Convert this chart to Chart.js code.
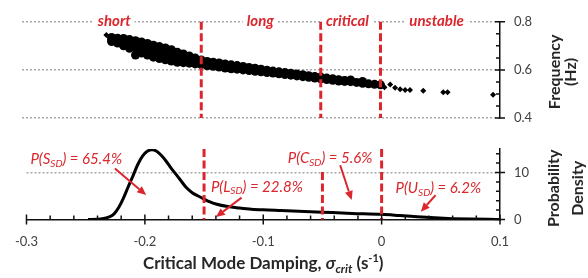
<!DOCTYPE html>
<html>
<head>
<meta charset="utf-8">
<script src="https://cdn.jsdelivr.net/npm/chart.js@4.4.1/dist/chart.umd.min.js"></script>
<style>
  html, body { margin: 0; padding: 0; background: #fff; }
  #wrap { position: relative; width: 588px; height: 278px; }
  #wrap canvas { position: absolute; left: 0; top: 0; }
</style>
</head>
<body>
<div id="wrap">
  <canvas id="pdfChart" width="588" height="278"></canvas>
  <canvas id="freqChart" width="588" height="278"></canvas>
</div>
<script>
// damping thresholds between the four regions and their probabilities
const regionEdges = [-0.15, -0.05, 0];
const regionNames = ['short', 'long', 'critical', 'unstable'];
const regionLetters = ['S', 'L', 'C', 'U'];
const regionProbs = [65.4, 22.8, 5.6, 6.2];

const dampBand = [-0.225, -0.220, -0.215, -0.210, -0.205, -0.200, -0.195, -0.190, -0.185, -0.180,
  -0.175, -0.170, -0.165, -0.160, -0.155, -0.150, -0.145, -0.140, -0.135, -0.130,
  -0.125, -0.120, -0.115, -0.110, -0.105, -0.100, -0.095, -0.090, -0.085, -0.080,
  -0.075, -0.070, -0.065, -0.060, -0.055, -0.050, -0.045, -0.040, -0.035, -0.030,
  -0.025, -0.020, -0.015, -0.010, -0.005, 0.000];
const freqUpper = [0.735, 0.732, 0.731, 0.726, 0.721, 0.716, 0.710, 0.703, 0.697, 0.691,
  0.684, 0.673, 0.666, 0.658, 0.649, 0.641, 0.635, 0.632, 0.629, 0.625,
  0.621, 0.618, 0.614, 0.610, 0.607, 0.603, 0.599, 0.595, 0.592, 0.589,
  0.586, 0.583, 0.580, 0.576, 0.573, 0.570, 0.566, 0.563, 0.559, 0.556,
  0.558, null, 0.552, null, null, null];
const freqMiddle = [0.725, 0.722, 0.716, 0.708, 0.695, 0.693, 0.687, 0.679, 0.672, 0.667,
  0.661, 0.653, 0.648, 0.643, 0.637, 0.632, 0.626, 0.623, 0.620, 0.617,
  0.614, 0.610, 0.607, 0.604, 0.600, 0.597, 0.594, 0.591, 0.588, 0.585,
  0.582, 0.579, 0.576, 0.573, 0.570, 0.566, 0.563, 0.560, 0.557, 0.554,
  0.551, 0.548, 0.544, 0.542, 0.540, 0.538];
const freqLower = [0.718, 0.712, 0.700, 0.690, 0.662, 0.670, 0.662, 0.653, 0.647, 0.642,
  0.637, 0.632, 0.630, 0.628, 0.625, 0.622, 0.617, 0.615, 0.612, 0.608,
  0.605, 0.603, 0.600, 0.597, 0.594, 0.592, 0.589, 0.587, 0.584, 0.581,
  0.578, 0.575, 0.572, 0.569, 0.566, 0.563, 0.560, 0.557, 0.554, 0.553,
  null, null, null, null, null, null];
// isolated points
const dampSparse = [-0.2294, 0.0033, 0.0081, 0.0122, 0.0164, 0.0206, 0.0247, 0.0358, 0.0525, 0.0561, 0.0942];
const freqSparse = [0.745, 0.528, 0.539, 0.526, 0.520, 0.516, 0.516, 0.513, 0.507, 0.507, 0.497];

// probability density of the critical mode damping
const dampCurve = [-0.248, -0.240, -0.235, -0.230, -0.226, -0.222, -0.218, -0.214, -0.210, -0.206,
  -0.202, -0.198, -0.194, -0.190, -0.186, -0.182, -0.178, -0.174, -0.170, -0.165,
  -0.160, -0.155, -0.150, -0.145, -0.140, -0.130, -0.120, -0.110, -0.100, -0.085,
  -0.070, -0.050, -0.025, 0.000, 0.015, 0.030, 0.045, 0.060, 0.075, 0.090, 0.100];
const densityCurve = [0, 0.05, 0.2, 0.55, 1.2, 2.6, 4.6, 7.0, 9.3, 11.7,
  13.5, 14.5, 14.85, 14.5, 13.6, 12.4, 11.0, 9.7, 8.4, 6.8,
  5.7, 5.0, 4.35, 3.75, 3.3, 2.75, 2.45, 2.2, 2.05, 1.9,
  1.75, 1.55, 1.3, 1.1, 0.85, 0.58, 0.35, 0.18, 0.08, 0.03, 0.02];

// labelled ticks
const dampTicks = [-0.3, -0.2, -0.1, 0, 0.1];
const freqTicks = [0.4, 0.6, 0.8];
const densityTicks = [0, 10];

// where the annotations sit (data units)
const topLabelX = [-0.2228, -0.1006, -0.0277, 0.0469];
const probLabelAt = [[-0.2967, 12.75], [-0.1442, 6.95], [-0.0792, 12.97], [0.0117, 6.6]];
const probArrows = [[-0.2253, 10.85, -0.1989, 5.19], [-0.1183, 4.66, -0.140, 0.53],
  [-0.035, 11.55, -0.0253, 4.13], [0.0456, 5.19, 0.0331, 1.65]];

const RED = '#da262c';
const FONT = 'Lato, "DejaVu Sans", sans-serif';
const TICK_COLOR = '#404040';

function isMajor(list, v) {
  return list.some(t => Math.abs(t - v) < 1e-6);
}

function onStep(v, step) {
  return Math.abs(v / step - Math.round(v / step)) < 1e-6;
}

function drawTickMarks(ctx, scale, majors, step) {
  ctx.save();
  ctx.strokeStyle = '#111';
  ctx.lineWidth = 1.5;
  ctx.beginPath();
  scale.ticks.forEach(t => {
    if (!onStep(t.value, step)) return;
    const p = scale.getPixelForValue(t.value);
    const major = isMajor(majors, t.value);
    if (scale.isHorizontal()) {
      const y = scale.top;
      ctx.moveTo(p, y - (major ? 5 : 4));
      ctx.lineTo(p, y + (major ? 5 : 0));
    } else {
      const x = scale.left;
      ctx.moveTo(x - (major ? 5 : 4), p);
      ctx.lineTo(x + (major ? 5 : 0), p);
    }
  });
  ctx.stroke();
  ctx.restore();
}

function drawRegionLines(chart) {
  const {ctx, chartArea, scales: {x}} = chart;
  ctx.save();
  ctx.strokeStyle = RED;
  ctx.lineWidth = 3;
  ctx.setLineDash([8, 3.5]);
  regionEdges.forEach(e => {
    const px = x.getPixelForValue(e);
    ctx.beginPath();
    ctx.moveTo(px, chartArea.top);
    ctx.lineTo(px, chartArea.bottom);
    ctx.stroke();
  });
  ctx.restore();
}

function measureRich(ctx, parts) {
  let w = 0;
  parts.forEach(p => { ctx.font = p[1]; w += ctx.measureText(p[0]).width; });
  return w;
}

// parts: [text, font, dy]
function drawRich(ctx, x, y, parts, align) {
  const w = measureRich(ctx, parts);
  let cx = align === 'center' ? x - w / 2 : x;
  ctx.textAlign = 'left';
  parts.forEach(p => {
    ctx.font = p[1];
    ctx.fillText(p[0], cx, y + (p[2] || 0));
    cx += ctx.measureText(p[0]).width;
  });
  return w;
}

function drawVertical(ctx, text, x, y) {
  ctx.save();
  ctx.translate(x, y);
  ctx.rotate(-Math.PI / 2);
  ctx.textAlign = 'center';
  ctx.textBaseline = 'alphabetic';
  ctx.fillText(text, 0, 0);
  ctx.restore();
}

function drawArrow(ctx, x0, y0, x1, y1) {
  const a = Math.atan2(y1 - y0, x1 - x0), head = 9, half = 4;
  const bx = x1 - head * Math.cos(a), by = y1 - head * Math.sin(a);
  ctx.beginPath();
  ctx.moveTo(x0, y0);
  ctx.lineTo(bx, by);
  ctx.stroke();
  ctx.beginPath();
  ctx.moveTo(x1, y1);
  ctx.lineTo(bx + half * Math.sin(a), by - half * Math.cos(a));
  ctx.lineTo(bx - half * Math.sin(a), by + half * Math.cos(a));
  ctx.closePath();
  ctx.fill();
}

const freqPlugin = {
  id: 'freqPanel',
  afterDatasetsDraw(chart) {
    const {ctx, scales: {x, y}} = chart;
    drawRegionLines(chart);
    // region names on the 0.8 grid line
    ctx.save();
    ctx.font = 'bold italic 15px ' + FONT;
    ctx.textBaseline = 'middle';
    ctx.textAlign = 'center';
    const ly = y.getPixelForValue(0.8) - 1;
    regionNames.forEach((name, i) => {
      const lx = x.getPixelForValue(topLabelX[i]);
      const w = ctx.measureText(name).width;
      ctx.fillStyle = '#fff';
      ctx.fillRect(lx - w / 2 - 4, ly - 8, w + 8, 16);
      ctx.fillStyle = RED;
      ctx.fillText(name, lx, ly);
    });
    ctx.restore();
  },
  afterDraw(chart) {
    const {ctx, chartArea, scales: {y}} = chart;
    drawTickMarks(ctx, y, freqTicks, 0.05);
    ctx.save();
    ctx.fillStyle = '#262626';
    ctx.font = 'bold 16px ' + FONT;
    const cy = (chartArea.top + chartArea.bottom) / 2 + 2;
    drawVertical(ctx, 'Frequency', chartArea.right + 60, cy);
    drawVertical(ctx, '(Hz)', chartArea.right + 76, cy);
    ctx.restore();
  }
};

const pdfPlugin = {
  id: 'pdfPanel',
  afterDatasetsDraw(chart) {
    const {ctx, scales: {x, y}} = chart;
    drawRegionLines(chart);
    ctx.save();
    ctx.strokeStyle = RED;
    ctx.lineWidth = 2;
    ctx.textBaseline = 'middle';
    regionLetters.forEach((letter, i) => {
      const [lx, ly] = probLabelAt[i];
      const parts = [
        ['P(' + letter, 'italic 15px ' + FONT],
        ['SD', 'italic 10px ' + FONT, 4],
        [') = ' + regionProbs[i].toFixed(1) + '%', 'italic 15px ' + FONT]
      ];
      const px = x.getPixelForValue(lx), py = y.getPixelForValue(ly);
      const w = measureRich(ctx, parts);
      ctx.fillStyle = '#fff';
      ctx.fillRect(px - 2, py - 11, w + 4, 22);
      ctx.fillStyle = RED;
      drawRich(ctx, px, py, parts);
      const [ax, ay, bx, by] = probArrows[i];
      drawArrow(ctx, x.getPixelForValue(ax), y.getPixelForValue(ay),
        x.getPixelForValue(bx), y.getPixelForValue(by));
    });
    ctx.restore();
  },
  afterDraw(chart) {
    const {ctx, chartArea, scales: {x, y}} = chart;
    drawTickMarks(ctx, x, dampTicks, 0.02);
    drawTickMarks(ctx, y, densityTicks, 2);
    ctx.save();
    ctx.fillStyle = '#262626';
    ctx.font = 'bold 16px ' + FONT;
    const cy = (chartArea.top + chartArea.bottom) / 2 + 4;
    drawVertical(ctx, 'Probability', chartArea.right + 58.5, cy);
    drawVertical(ctx, 'Density', chartArea.right + 83, cy);
    // x axis title with sub/superscripts
    ctx.textBaseline = 'alphabetic';
    drawRich(ctx, (chartArea.left + chartArea.right) / 2, 269, [
      ['Critical Mode Damping, ', 'bold 17px ' + FONT],
      ['\u03c3', 'bold italic 17px ' + FONT],
      ['crit', 'bold italic 12px ' + FONT, 4],
      [' (s', 'bold 17px ' + FONT],
      ['-1', 'bold 11px ' + FONT, -7],
      [')', 'bold 17px ' + FONT]
    ], 'center');
    ctx.restore();
  }
};

const bandPoints = [];
dampBand.forEach((d, i) => {
  [freqUpper[i], freqMiddle[i], freqLower[i]].forEach(f => {
    if (f !== null) bandPoints.push({x: d, y: f});
  });
});
const sparsePoints = dampSparse.map((d, i) => ({x: d, y: freqSparse[i]}));
const curvePoints = dampCurve.map((d, i) => ({x: d, y: densityCurve[i]}));

const tickFont = {family: FONT, size: 13};

new Chart(document.getElementById('freqChart'), {
  type: 'scatter',
  data: {
    datasets: [
      {data: bandPoints, pointStyle: 'circle', pointRadius: 4.5, backgroundColor: '#000', borderWidth: 0},
      {data: sparsePoints, pointStyle: 'rectRot', pointRadius: 3, backgroundColor: '#000', borderWidth: 0}
    ]
  },
  options: {
    responsive: false,
    animation: false,
    events: [],
    layout: {padding: {left: 22, right: 0, top: 15, bottom: 160}},
    plugins: {legend: {display: false}, tooltip: {enabled: false}},
    scales: {
      x: {type: 'linear', min: -0.3, max: 0.1, display: false},
      y: {
        position: 'right',
        min: 0.4,
        max: 0.8,
        afterFit(scale) { scale.width = 88; },
        ticks: {
          stepSize: 0.05,
          includeBounds: false,
          autoSkip: false,
          padding: 14,
          font: tickFont,
          color: TICK_COLOR,
          callback: v => isMajor(freqTicks, v) ? v.toFixed(1) : ''
        },
        grid: {
          drawTicks: false,
          lineWidth: 1.5,
          color: c => isMajor(freqTicks, c.tick.value) ? '#a8a8a8' : 'rgba(0,0,0,0)'
        },
        border: {display: true, color: '#111', width: 1.5, dash: [2, 2]}
      }
    }
  },
  plugins: [freqPlugin]
});

new Chart(document.getElementById('pdfChart'), {
  type: 'line',
  data: {
    datasets: [{
      data: curvePoints,
      borderColor: '#000',
      borderWidth: 3,
      pointRadius: 0,
      fill: false,
      cubicInterpolationMode: 'monotone'
    }]
  },
  options: {
    responsive: false,
    animation: false,
    events: [],
    layout: {padding: {left: 22, right: 0, top: 149, bottom: 28.5}},
    plugins: {legend: {display: false}, tooltip: {enabled: false}},
    scales: {
      x: {
        type: 'linear',
        min: -0.3,
        max: 0.1,
        afterFit(scale) { scale.height = 30; },
        ticks: {
          stepSize: 0.02,
          includeBounds: false,
          autoSkip: false,
          maxRotation: 0,
          minRotation: 0,
          padding: 15,
          font: tickFont,
          color: TICK_COLOR,
          callback: v => isMajor(dampTicks, v) ? String(Math.round(v * 10) / 10) : ''
        },
        grid: {display: false, drawTicks: false},
        border: {display: true, color: '#111', width: 1.5}
      },
      y: {
        position: 'right',
        min: 0,
        max: 15,
        afterFit(scale) { scale.width = 88; },
        ticks: {
          stepSize: 2,
          includeBounds: false,
          autoSkip: false,
          padding: 14,
          font: tickFont,
          color: TICK_COLOR,
          callback: v => isMajor(densityTicks, v) ? String(v) : ''
        },
        grid: {
          drawTicks: false,
          lineWidth: 1.5,
          color: c => c.tick.value === 10 ? '#a8a8a8' : 'rgba(0,0,0,0)'
        },
        border: {display: true, color: '#111', width: 1.5, dash: [2, 2]}
      }
    }
  },
  plugins: [pdfPlugin]
});
</script>
</body>
</html>
